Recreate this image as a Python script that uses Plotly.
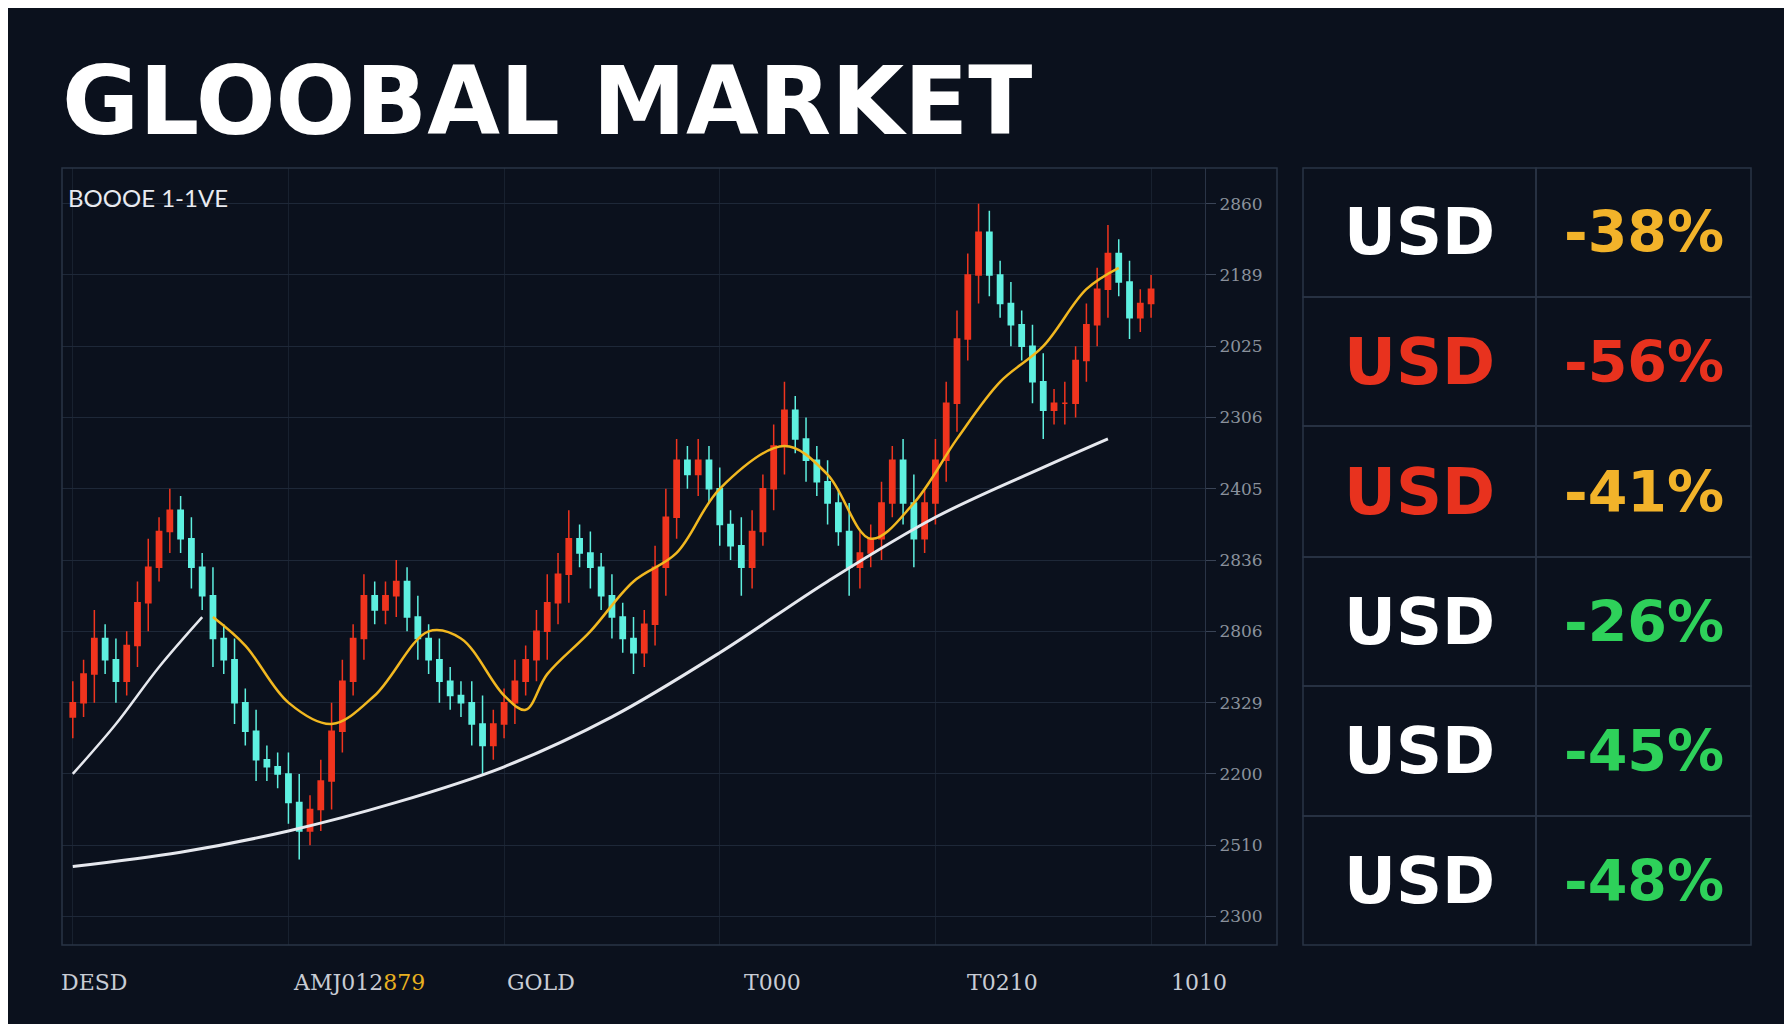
import plotly.graph_objects as go

W, H = 1792, 1024
BG = "#0b111d"

# candle closes (index = session)
closes = [30, 34, 39, 36, 33, 38, 44, 49, 54, 57, 53, 49, 45, 39, 36, 30, 26, 22, 21, 20,
          16, 12, 15, 19, 26, 33, 39, 45, 43, 45, 47, 42, 39, 36, 33, 31, 30, 27, 24, 27,
          30, 33, 36, 40, 44, 48, 53, 51, 49, 45, 42, 39, 37, 41, 49, 56, 64, 62, 64, 60,
          55, 52, 49, 54, 60, 66, 71, 67, 64, 61, 58, 54, 49, 51, 53, 58, 64, 58, 53, 58,
          64, 72, 81, 90, 96, 90, 86, 83, 80, 75, 71, 72, 72, 78, 83, 88, 93, 89, 84, 86, 88]
wicks = [3, 2, 4, 2, 3, 2, 3, 4, 2, 3, 2, 3, 2, 4, 2, 3, 2, 3, 2, 2,
         3, 4, 2, 3, 4, 3, 2, 3, 2, 2, 3, 2, 3, 2, 3, 2, 2, 3, 4, 2,
         2, 3, 2, 3, 4, 3, 4, 2, 3, 2, 3, 2, 3, 2, 3, 4, 3, 2, 3, 2,
         3, 2, 4, 3, 2, 3, 4, 2, 3, 2, 3, 2, 4, 3, 2, 3, 2, 3, 4, 2,
         3, 3, 4, 3, 4, 3, 2, 3, 2, 3, 4, 2, 3, 2, 3, 3, 4, 2, 3, 2, 2]

ma_fast_x = [13, 16, 20, 24, 28, 33, 36, 40, 42, 44, 48, 52, 56, 60, 66, 70, 74, 78, 82, 86, 90, 94, 97]
ma_fast_y = [42, 38, 30, 27, 31, 40, 39, 31, 29, 34, 40, 47, 51, 60, 66, 62, 53, 58, 67, 75, 80, 88, 91]
ma_short_x = [0, 4, 8, 12]
ma_short_y = [20, 27, 35, 42]
ma_slow_x = [0, 10, 20, 30, 40, 50, 60, 70, 80, 90, 96]
ma_slow_y = [7, 9, 12, 16, 21, 28, 37, 47, 56, 63, 67]

ytick_vals = [100, 90, 80, 70, 60, 50, 40, 30, 20, 10, 0]
ytick_text = ["2860", "2189", "2025", "2306", "2405", "2836", "2806", "2329", "2200", "2510", "2300"]
xlabels = ["DESD", "AMJ012<span style='color:#e8b020'>879</span>", "GOLD", "T000", "T0210", "1010"]
xlabel_px = [86, 351, 533, 764, 994, 1191]

row_ccy = ["USD"] * 6
row_ccy_colors = ["#ffffff", "#e8321e", "#e8321e", "#ffffff", "#ffffff", "#ffffff"]
row_pct = ["-38%", "-56%", "-41%", "-26%", "-45%", "-48%"]
row_pct_colors = ["#f2b32a", "#e8321e", "#f2b32a", "#2ed15a", "#2ed15a", "#2ed15a"]

# plot area in pixels
PL, PR, PT, PB = 54, 1197, 160, 937


def px(x):
    return (x - PL) / (PR - PL)


def py(y):
    return (PB - y) / (PB - PT)


def label(text, x, y, size, color, family="DejaVu Sans", xanchor="center"):
    return dict(text=text, x=px(x), y=py(y), xref="paper", yref="paper", xanchor=xanchor,
                yanchor="middle", showarrow=False, font=dict(family=family, size=size, color=color))


idx = list(range(len(closes)))
opens = [closes[0] - 2] + closes[:-1]
highs = [max(o, c) + w for o, c, w in zip(opens, closes, wicks)]
lows = [min(o, c) - w for o, c, w in zip(opens, closes, wicks)]

fig = go.Figure()
fig.add_trace(go.Scatter(x=ma_slow_x, y=ma_slow_y, mode="lines", line=dict(color="#e6e8ee", width=3, shape="spline")))
fig.add_trace(go.Scatter(x=ma_short_x, y=ma_short_y, mode="lines", line=dict(color="#e6e8ee", width=2.5, shape="spline")))
fig.add_trace(go.Candlestick(
    x=idx, open=opens, high=highs, low=lows, close=closes,
    increasing=dict(line=dict(color="#f0341e", width=1.5), fillcolor="#f0341e"),
    decreasing=dict(line=dict(color="#5ef0e0", width=1.5), fillcolor="#5ef0e0"),
    whiskerwidth=0, hoverinfo="skip"))
fig.add_trace(go.Scatter(x=ma_fast_x, y=ma_fast_y, mode="lines", line=dict(color="#f2b820", width=2.5, shape="spline")))

shapes = [
    # panel border
    dict(type="rect", xref="paper", yref="paper", x0=px(54), x1=px(1269), y0=py(937), y1=py(160),
         line=dict(color="#2a3446", width=1.5)),
]
annotations = [
    label("<b>GLOOBAL MARKET</b>", 52, 94, 94, "#ffffff", xanchor="left"),
    label("BOOOE 1-1VE", 58, 189, 24, "#e8eaf0", family="Lato", xanchor="left"),
]
for t, xp in zip(xlabels, xlabel_px):
    annotations.append(label(t, xp, 974, 22, "#c8ccd4", family="DejaVu Serif"))

# table on the right
TL, TM, TR = 1295, 1528, 1743
rows = [160, 289, 418, 549, 678, 808, 937]
for i in range(6):
    y0, y1 = rows[i], rows[i + 1]
    for a, b in ((TL, TM), (TM, TR)):
        shapes.append(dict(type="rect", xref="paper", yref="paper", x0=px(a), x1=px(b),
                           y0=py(y1), y1=py(y0), line=dict(color="#2a3446", width=1.5)))
    yc = (y0 + y1) / 2
    annotations.append(label("<b>" + row_ccy[i] + "</b>", (TL + TM) / 2, yc, 64, row_ccy_colors[i]))
    annotations.append(label("<b>" + row_pct[i] + "</b>", (TM + TR) / 2, yc, 57, row_pct_colors[i]))

fig.update_layout(
    width=W, height=H, paper_bgcolor=BG, plot_bgcolor=BG, showlegend=False,
    margin=dict(l=PL, r=W - PR, t=PT, b=H - PB),
    shapes=shapes, annotations=annotations,
    xaxis=dict(range=[-1, 105], showticklabels=False, rangeslider=dict(visible=False),
               showgrid=True, gridcolor="#18212f", dtick=20, zeroline=False),
    yaxis=dict(range=[-4, 105], side="right", tickvals=ytick_vals, ticktext=ytick_text,
               showgrid=True, gridcolor="#1e2838", zeroline=False, showline=True, linecolor="#2a3446",
               ticks="outside", ticklen=10, tickcolor="#3a4456",
               tickfont=dict(family="DejaVu Serif", size=17, color="#8a919c")),
)

fig.write_html("out.html")
